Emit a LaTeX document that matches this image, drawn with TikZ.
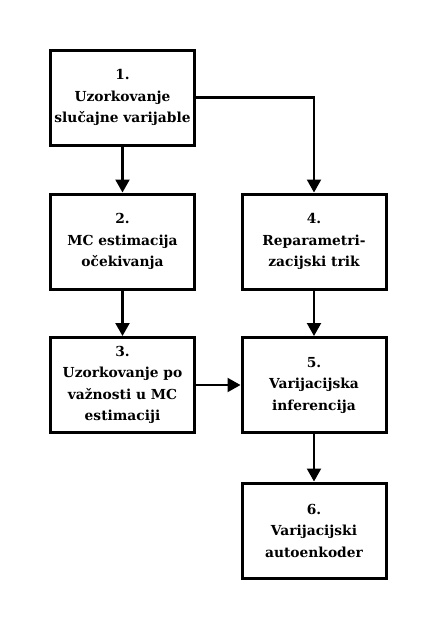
\documentclass[tikz,border=0pt]{standalone}
\usepackage{fontspec}
\setmainfont{DejaVu Serif}
\usetikzlibrary{arrows.meta}
\begin{document}
\begin{tikzpicture}[x=1pt,y=-1pt,
  stepbox/.style={draw=black, line width=3pt, minimum width=144pt, minimum height=95pt,
    align=center, inner sep=0pt, font=\bfseries\fontsize{13.8}{21.5}\selectfont},
  conn/.style={line width=2.2pt, -{Triangle[length=13pt,width=14pt]}}]
\useasboundingbox (0,0) rectangle (435,627);
\node[stepbox] (b1) at (122.5,97.5) {1.\\Uzorkovanje\\slučajne varijable};
\node[stepbox] (b2) at (122.5,241.5) {2.\\MC estimacija\\očekivanja};
\node[stepbox] (b3) at (122.5,385) {3.\\Uzorkovanje po\\važnosti u MC\\estimaciji};
\node[stepbox] (b4) at (314,241.5) {4.\\Reparametri-\\zacijski trik};
\node[stepbox] (b5) at (314,385) {5.\\Varijacijska\\inferencija};
\node[stepbox] (b6) at (314,530.5) {6.\\Varijacijski\\autoenkoder};
\draw[conn] (b1) -- (b2);
\draw[conn] (b2) -- (b3);
\draw[conn] (b1.east) -| (b4.north);
\draw[conn] (b4) -- (b5);
\draw[conn] (b3) -- (b5);
\draw[conn] (b5) -- (b6);
\end{tikzpicture}
\end{document}
